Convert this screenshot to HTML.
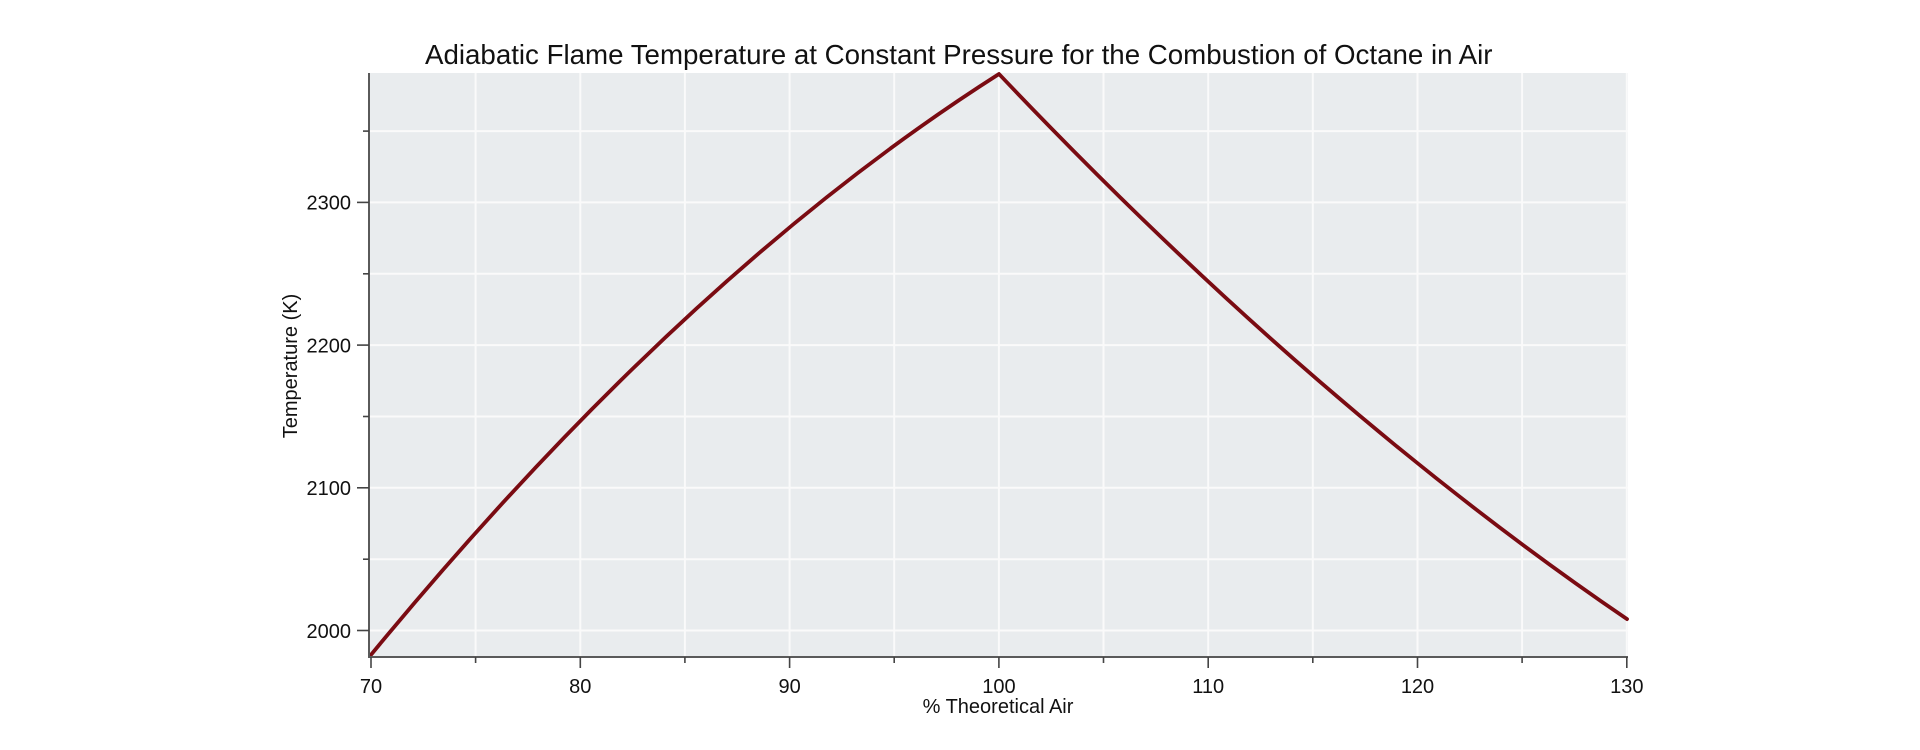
<!DOCTYPE html>
<html>
<head>
<meta charset="utf-8">
<style>
  html, body { margin: 0; padding: 0; background: #ffffff; }
  svg { display: block; }
  text { font-family: "Liberation Sans", Arial, sans-serif; fill: #111; }
</style>
</head>
<body>
<svg width="1920" height="750" viewBox="0 0 1920 750" xmlns="http://www.w3.org/2000/svg">
  <rect x="0" y="0" width="1920" height="750" fill="#ffffff"/>

  <!-- Title -->
  <text x="425" y="64" font-size="27.7" text-anchor="start">Adiabatic Flame Temperature at Constant Pressure for the Combustion of Octane in Air</text>

  <!-- Plot background -->
  <rect x="370" y="73" width="1258" height="584" fill="#e9ecee"/>

  <!-- Vertical gridlines (every 5 %) -->
  <g stroke="#fafafa" stroke-width="2">
    <line x1="475.6" y1="73" x2="475.6" y2="657"/>
    <line x1="580.3" y1="73" x2="580.3" y2="657"/>
    <line x1="684.9" y1="73" x2="684.9" y2="657"/>
    <line x1="789.6" y1="73" x2="789.6" y2="657"/>
    <line x1="894.2" y1="73" x2="894.2" y2="657"/>
    <line x1="998.9" y1="73" x2="998.9" y2="657"/>
    <line x1="1103.5" y1="73" x2="1103.5" y2="657"/>
    <line x1="1208.2" y1="73" x2="1208.2" y2="657"/>
    <line x1="1312.8" y1="73" x2="1312.8" y2="657"/>
    <line x1="1417.5" y1="73" x2="1417.5" y2="657"/>
    <line x1="1522.1" y1="73" x2="1522.1" y2="657"/>
    <line x1="1626.8" y1="73" x2="1626.8" y2="657"/>
  </g>
  <!-- Horizontal gridlines (every 50 K) -->
  <g stroke="#fafafa" stroke-width="2">
    <line x1="370" y1="630.5" x2="1628" y2="630.5"/>
    <line x1="370" y1="559.2" x2="1628" y2="559.2"/>
    <line x1="370" y1="487.8" x2="1628" y2="487.8"/>
    <line x1="370" y1="416.5" x2="1628" y2="416.5"/>
    <line x1="370" y1="345.1" x2="1628" y2="345.1"/>
    <line x1="370" y1="273.8" x2="1628" y2="273.8"/>
    <line x1="370" y1="202.4" x2="1628" y2="202.4"/>
    <line x1="370" y1="131.1" x2="1628" y2="131.1"/>
  </g>

  <!-- Data curve -->
  <path d="M371,654.8 Q685,273.75 999,74 Q1313,405 1627,619.1" fill="none" stroke="#7a0b12" stroke-width="3.8" stroke-linejoin="round" stroke-linecap="round"/>

  <!-- Axes lines -->
  <line x1="369" y1="73" x2="369" y2="658" stroke="#5a5a5a" stroke-width="2"/>
  <line x1="368" y1="657" x2="1628" y2="657" stroke="#5a5a5a" stroke-width="2"/>

  <!-- Y ticks -->
  <g stroke="#444" stroke-width="1.6">
    <line x1="357" y1="630.5" x2="369" y2="630.5"/>
    <line x1="357" y1="487.8" x2="369" y2="487.8"/>
    <line x1="357" y1="345.1" x2="369" y2="345.1"/>
    <line x1="357" y1="202.4" x2="369" y2="202.4"/>
    <line x1="363" y1="559.2" x2="369" y2="559.2"/>
    <line x1="363" y1="416.5" x2="369" y2="416.5"/>
    <line x1="363" y1="273.8" x2="369" y2="273.8"/>
    <line x1="363" y1="131.1" x2="369" y2="131.1"/>
  </g>
  <g font-size="20" text-anchor="end">
    <text x="351" y="637.8">2000</text>
    <text x="351" y="495.1">2100</text>
    <text x="351" y="352.4">2200</text>
    <text x="351" y="209.7">2300</text>
  </g>

  <!-- X ticks -->
  <g stroke="#444" stroke-width="1.6">
    <line x1="371" y1="657" x2="371" y2="668"/>
    <line x1="580.3" y1="657" x2="580.3" y2="668"/>
    <line x1="789.6" y1="657" x2="789.6" y2="668"/>
    <line x1="998.9" y1="657" x2="998.9" y2="668"/>
    <line x1="1208.2" y1="657" x2="1208.2" y2="668"/>
    <line x1="1417.5" y1="657" x2="1417.5" y2="668"/>
    <line x1="1626.8" y1="657" x2="1626.8" y2="668"/>
    <line x1="475.6" y1="657" x2="475.6" y2="663"/>
    <line x1="684.9" y1="657" x2="684.9" y2="663"/>
    <line x1="894.2" y1="657" x2="894.2" y2="663"/>
    <line x1="1103.5" y1="657" x2="1103.5" y2="663"/>
    <line x1="1312.8" y1="657" x2="1312.8" y2="663"/>
    <line x1="1522.1" y1="657" x2="1522.1" y2="663"/>
  </g>
  <g font-size="20" text-anchor="middle">
    <text x="371" y="693">70</text>
    <text x="580.3" y="693">80</text>
    <text x="789.6" y="693">90</text>
    <text x="998.9" y="693">100</text>
    <text x="1208.2" y="693">110</text>
    <text x="1417.5" y="693">120</text>
    <text x="1626.8" y="693">130</text>
  </g>

  <!-- Axis labels -->
  <text x="998" y="713" font-size="20" text-anchor="middle">% Theoretical Air</text>
  <text x="0" y="0" font-size="20" text-anchor="middle" transform="translate(297,366) rotate(-90)">Temperature (K)</text>
</svg>
</body>
</html>
